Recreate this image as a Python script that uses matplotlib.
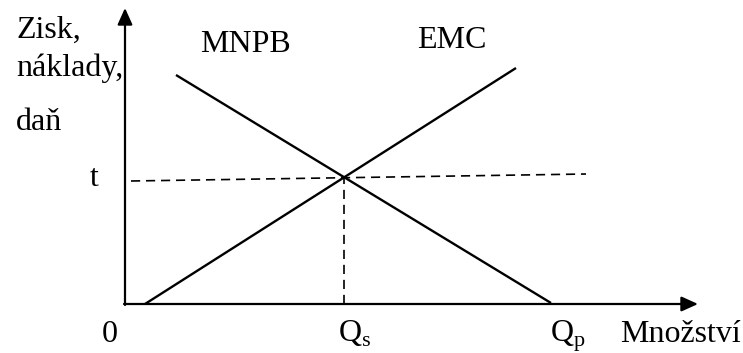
import matplotlib
matplotlib.use('Agg')
from matplotlib import pyplot as plt

plt.rcParams['font.family'] = ['Liberation Serif', 'DejaVu Serif']
plt.rcParams['mathtext.fontset'] = 'custom'
plt.rcParams['mathtext.rm'] = 'Liberation Serif'

# data (units measured from origin 0)
mnpb_x = [51, 426]
mnpb_y = [229, 1]
emc_x = [20, 391]
emc_y = [0, 236]
t_x = [6, 461]
t_y = [123, 130]
qs_x = [219, 219]
qs_y = [0, 127]

y_labels = ['Zisk,', 'náklady,', 'daň']

fig = plt.figure(figsize=(7.43, 3.53), dpi=100)
ax = fig.add_axes([0, 0, 1, 1])
ax.set_xlim(-125, 618)
ax.set_ylim(-49, 304)
ax.axis('off')

# axes with arrows
ax.annotate('', xy=(0, 296), xytext=(0, -1),
            arrowprops=dict(arrowstyle='-|>,head_length=1.0,head_width=0.45',
                            lw=1.6, color='black', shrinkA=0, shrinkB=0))
ax.annotate('', xy=(573, 0), xytext=(-1, 0),
            arrowprops=dict(arrowstyle='-|>,head_length=1.0,head_width=0.45',
                            lw=1.6, color='black', shrinkA=0, shrinkB=0))

ax.plot(mnpb_x, mnpb_y, color='black', lw=1.7, solid_capstyle='butt')
ax.plot(emc_x, emc_y, color='black', lw=1.7, solid_capstyle='butt')
ax.plot(t_x, t_y, color='black', lw=1.2, ls=(0, (5.5, 3.5)))
ax.plot(qs_x, qs_y, color='black', lw=1.2, ls=(0, (5.5, 3.5)))

fs = 23
ax.text(-109, 274, y_labels[0], fontsize=fs, va='center', ha='left')
ax.text(-109, 236, y_labels[1], fontsize=fs, va='center', ha='left')
ax.text(-109, 181, y_labels[2], fontsize=fs, va='center', ha='left')
ax.text(-35, 125, 't', fontsize=fs, va='center', ha='left')
ax.text(-15, -38, '0', fontsize=fs, va='baseline', ha='center')
ax.text(213, -38, r'Q$_\mathregular{s}$', fontsize=fs, va='baseline', ha='left')
ax.text(425, -38, r'Q$_\mathregular{p}$', fontsize=fs, va='baseline', ha='left')
ax.text(495, -38, 'Množství', fontsize=fs, va='baseline', ha='left')
ax.text(75, 260, 'MNPB', fontsize=fs, va='center', ha='left')
ax.text(292, 264, 'EMC', fontsize=fs, va='center', ha='left')

fig.savefig('out.png', dpi=100)
